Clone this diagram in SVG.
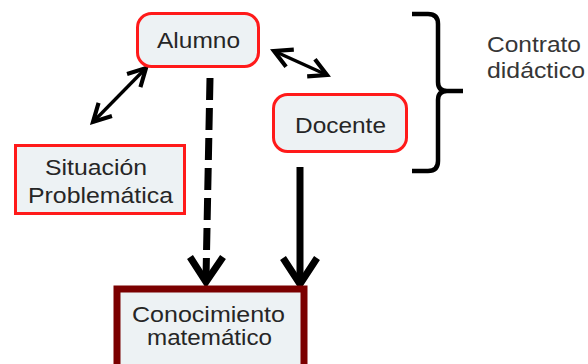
<svg xmlns="http://www.w3.org/2000/svg" width="588" height="364" viewBox="0 0 588 364">
  <style>
    .node { fill: #edf2f4; stroke: #ff1a1a; stroke-width: 3; }
    .goal { fill: #edf2f4; stroke: #7b0000; stroke-width: 7; }
    .lbl { font-family: "Liberation Sans", Arial, sans-serif; font-size: 22.5px; fill: #262626; text-anchor: middle; }
    .note { font-family: "Liberation Sans", Arial, sans-serif; font-size: 22.5px; fill: #363636; }
    .thin { stroke: #000; stroke-width: 3.3; fill: none; marker-start: url(#v); marker-end: url(#v); }
    .thick { stroke: #000; stroke-width: 7; fill: none; }
    .head { stroke: #000; stroke-width: 7; fill: none; stroke-linejoin: miter; }
  </style>
  <defs>
    <marker id="v" markerUnits="userSpaceOnUse" markerWidth="30" markerHeight="30" viewBox="-20 -12 24 24" refX="0" refY="0" orient="auto-start-reverse">
      <path d="M-14,-7.5 L0,0 L-14,7.5" fill="none" stroke="#000" stroke-width="3.3" stroke-linejoin="miter"/>
    </marker>
  </defs>

  <rect width="588" height="364" fill="#ffffff"/>

  <!-- connectors -->
  <g id="connectors">
    <line class="thin" x1="146" y1="68" x2="93" y2="122"/>
    <line class="thin" x1="274" y1="51" x2="327" y2="75"/>
    <line class="thick" x1="210" y1="78" x2="206" y2="278" stroke-dasharray="22 8"/>
    <polyline class="head" points="190,257 206,282 223,257"/>
    <line class="thick" x1="300" y1="167" x2="300" y2="282"/>
    <polyline class="head" points="283,258 300,284 317,258"/>
  </g>

  <!-- curly brace grouping the contract -->
  <g id="brace">
    <path d="M412,14 L428,14 Q438,14 438,24 L438,82 Q438,91 447,91 L463,91 M447,91 Q438,91 438,100 L438,161 Q438,171 428,171 L412,171" fill="none" stroke="#000" stroke-width="4.5"/>
  </g>

  <g id="alumno">
    <rect class="node" x="137.5" y="13.5" width="121" height="53" rx="14"/>
    <text class="lbl" x="198.5" y="48" textLength="83" lengthAdjust="spacingAndGlyphs">Alumno</text>
  </g>

  <g id="docente">
    <rect class="node" x="273.5" y="94.5" width="133" height="57" rx="14"/>
    <text class="lbl" x="340.5" y="133" textLength="91" lengthAdjust="spacingAndGlyphs">Docente</text>
  </g>

  <g id="situacion">
    <rect class="node" x="15.5" y="145.5" width="169" height="68"/>
    <text class="lbl" x="96" y="175" textLength="102" lengthAdjust="spacingAndGlyphs">Situación</text>
    <text class="lbl" x="100.5" y="203" textLength="145" lengthAdjust="spacingAndGlyphs">Problemática</text>
  </g>

  <g id="conocimiento">
    <rect class="goal" x="117" y="289" width="187" height="90"/>
    <text class="lbl" x="208.5" y="322" textLength="153" lengthAdjust="spacingAndGlyphs">Conocimiento</text>
    <text class="lbl" x="209.5" y="345" textLength="125" lengthAdjust="spacingAndGlyphs">matemático</text>
  </g>

  <g id="contrato">
    <text class="note" x="487" y="52" textLength="94" lengthAdjust="spacingAndGlyphs">Contrato</text>
    <text class="note" x="487" y="78" textLength="98" lengthAdjust="spacingAndGlyphs">didáctico</text>
  </g>
</svg>
